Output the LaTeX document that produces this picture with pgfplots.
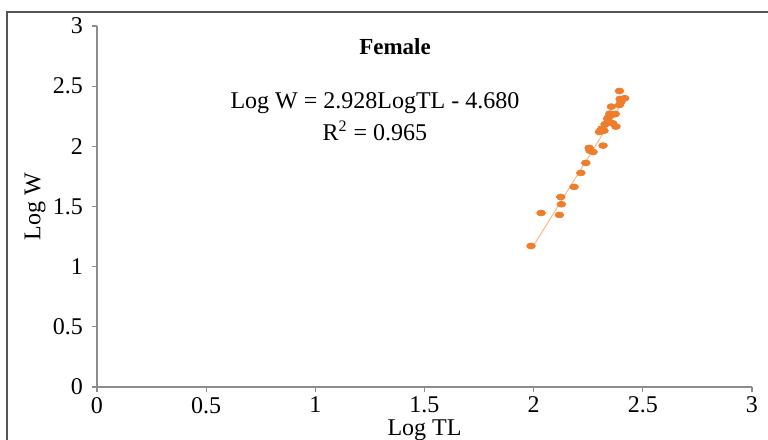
\documentclass[border=0pt]{standalone}
\usepackage{pgfplots}
\pgfplotsset{compat=1.18}
\usepackage{fontspec}
\setmainfont{Liberation Serif}
\definecolor{ptorange}{HTML}{EE7D2C}
\definecolor{fitorange}{HTML}{F8B88A}
\definecolor{axgray}{HTML}{8C8C8C}
\definecolor{framegray}{HTML}{555555}

\pgfplotstableread{
x y
1.988 1.172
2.034 1.446
2.118 1.430
2.127 1.519
2.124 1.579
2.185 1.663
2.216 1.779
2.239 1.862
2.254 1.987
2.258 1.964
2.272 1.953
2.318 2.006
2.301 2.120
2.312 2.147
2.322 2.130
2.327 2.184
2.339 2.230
2.343 2.242
2.349 2.272
2.362 2.192
2.377 2.164
2.356 2.330
2.365 2.264
2.374 2.269
2.393 2.460
2.396 2.394
2.417 2.400
2.393 2.344
2.400 2.370
}\femaledata

\begin{document}
\begin{tikzpicture}
\path[use as bounding box] (0pt,0pt) rectangle (384pt,220pt);
% frame of the original figure (cropped at right and bottom)
\draw[framegray, line width=0.8pt] (3.5pt,0pt) -- (3.5pt,214pt) -- (384pt,214pt);
\begin{axis}[
    at={(48.5pt,26.5pt)}, anchor=south west,
    scale only axis,
    width=327.5pt, height=180.5pt,
    xmin=0, xmax=3, ymin=0, ymax=3,
    axis x line*=bottom, axis y line*=left,
    axis line style={axgray, line width=0.6pt},
    tick style={axgray, line width=0.6pt},
    tick align=outside,
    major tick length=2.5pt,
    xtick={0,0.5,...,3}, ytick={0,0.5,...,3},
    /pgf/number format/assume math mode=true,
    ticklabel style={font=\fontsize{12}{14}\selectfont},
    xticklabel style={yshift=1pt},
    yticklabel style={xshift=-1pt},
    xlabel={Log TL}, ylabel={Log W},
    label style={font=\fontsize{12}{14}\selectfont},
    xlabel style={at={(axis description cs:0.5,0)}, anchor=center, yshift=-21.5pt},
    ylabel style={at={(axis description cs:0,0.5)}, anchor=center, yshift=31pt},
    clip=false,
]
\addplot[fitorange, line width=0.5pt] coordinates {(1.99,1.147) (2.42,2.406)};
\addplot[only marks, mark=*, mark size=1.45pt, color=ptorange,
    mark options={xscale=1.5, draw=ptorange, fill=ptorange}] table[x=x,y=y] {\femaledata};
\node[font=\bfseries\fontsize{11.5}{13}\selectfont] at (axis cs:1.365,2.826) {Female};
\node[font=\fontsize{12}{14}\selectfont, align=center] at (axis cs:1.273,2.25)
    {Log W = 2.928LogTL - 4.680\\[2pt] R\textsuperscript{2} = 0.965};
\end{axis}
\end{tikzpicture}
\end{document}
